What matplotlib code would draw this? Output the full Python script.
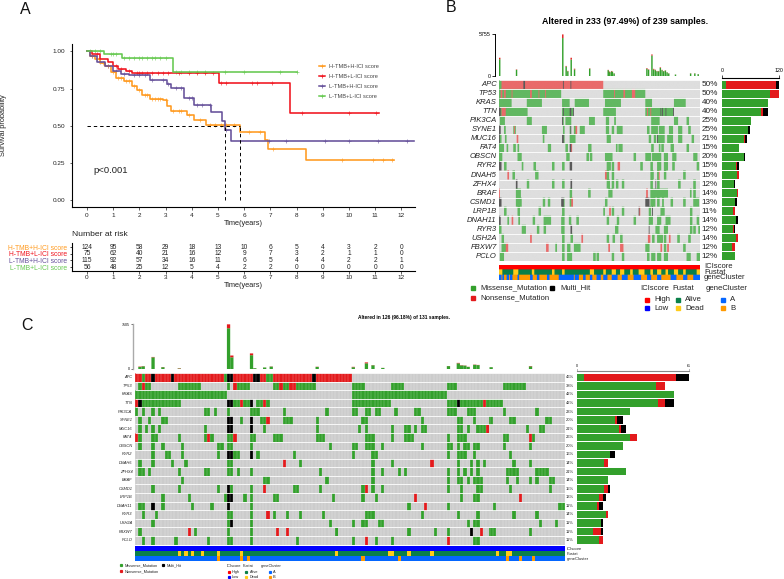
import numpy as np
import matplotlib
matplotlib.use("Agg")
import matplotlib.pyplot as plt
from matplotlib.colors import to_rgb
from matplotlib.lines import Line2D

plt.rcParams["font.family"] = ["Liberation Sans", "DejaVu Sans"]

W, H = 784, 579

# ---- panel A: survival curves
groups = ["H-TMB+H-ICI score", "H-TMB+L-ICI score", "L-TMB+H-ICI score", "L-TMB+L-ICI score"]
group_colors = ["#FF9A1F", "#F0141E", "#65509A", "#66C950"]
t_hh = [0, 0.1, 0.3, 0.5, 0.7, 0.9, 1.1, 1.4, 1.7, 1.9, 2.1, 2.4, 2.9, 3.05, 3.2, 3.8, 4.1, 4.55, 5.85, 6.8, 6.92, 8.35, 11.73]
s_hh = [1, 0.97, 0.95, 0.92, 0.90, 0.86, 0.82, 0.80, 0.77, 0.74, 0.71, 0.68, 0.67, 0.63, 0.60, 0.57, 0.54, 0.505, 0.455, 0.404, 0.343, 0.272, 0.272]
t_hl = [0, 0.2, 0.5, 0.8, 1.0, 1.2, 1.5, 1.7, 5.05, 7.75, 11.15]
s_hl = [1, 0.98, 0.95, 0.93, 0.90, 0.88, 0.87, 0.855, 0.785, 0.583, 0.583]
t_lh = [0, 0.1, 0.4, 0.7, 1.0, 1.3, 1.6, 2.4, 3.05, 3.2, 3.7, 4.1, 4.75, 5.15, 5.25, 5.5, 12.48]
s_lh = [1, 0.97, 0.93, 0.90, 0.87, 0.85, 0.84, 0.81, 0.78, 0.755, 0.685, 0.64, 0.59, 0.53, 0.47, 0.40, 0.40]
t_ll = [0, 0.65, 1.35, 3.27, 8.0]
s_ll = [1, 0.985, 0.955, 0.86, 0.86]
cens_hh = [0.2, 0.4, 0.6, 0.8, 1.0, 1.2, 1.3, 1.5, 1.6, 1.8, 2.0, 2.2, 2.3, 2.5, 2.6, 2.7, 2.8, 3.0, 3.3, 3.5, 3.6, 3.9, 4.3, 4.7, 4.9, 5.1, 5.3, 5.6, 6.2, 6.6, 7.1, 9.75, 10.9, 11.3, 11.65]
cens_hl = [0.4, 1.1, 1.3, 1.6, 1.9, 2.0, 2.1, 2.3, 2.5, 2.7, 2.9, 3.1, 3.5, 3.9, 4.2, 4.5, 4.8, 5.1, 5.3, 6.3, 6.5, 7.05, 8.2, 10.0, 11.05]
cens_lh = [0.2, 0.5, 0.8, 1.1, 1.4, 1.8, 2.0, 2.2, 2.5, 2.9, 3.1, 3.4, 3.6, 3.9, 4.0, 4.2, 4.4, 4.7, 5.3, 6.95, 7.6, 9.1, 10.0, 11.1, 12.2]
cens_ll = [0.1, 0.3, 0.5, 0.9, 1.0, 1.1, 1.4, 1.6, 1.8, 2.0, 2.1, 2.3, 2.5, 2.6, 2.8, 3.0, 3.4, 3.6, 3.9, 4.2, 4.5, 5.25, 6.0, 7.35, 8.0]
median_times = [5.25, 5.85]
risk_times = list(range(13))
risk_hh = [124, 95, 58, 29, 18, 13, 10, 6, 5, 4, 3, 2, 0]
risk_hl = [75, 62, 40, 21, 16, 12, 9, 7, 3, 2, 1, 1, 0]
risk_lh = [115, 92, 57, 34, 16, 11, 6, 5, 4, 4, 2, 2, 1]
risk_ll = [56, 48, 25, 12, 5, 4, 2, 2, 0, 0, 0, 0, 0]

# ---- oncoplots, shared
genes_b = ["APC", "TP53", "KRAS", "TTN", "PIK3CA", "SYNE1", "MUC16", "FAT4", "OBSCN", "RYR2", "DNAH5", "ZFHX4", "BRAF", "CSMD1", "LRP1B", "DNAH11", "RYR3", "USH2A", "FBXW7", "PCLO"]
genes_c = genes_b
pct_b = [50, 50, 40, 40, 25, 25, 21, 15, 20, 15, 15, 12, 14, 13, 11, 14, 12, 14, 12, 12]
pct_c = [46, 38, 42, 42, 23, 20, 21, 26, 20, 16, 14, 21, 14, 15, 13, 11, 14, 11, 11, 11]
n_b, n_c = 239, 131

# panel B, runs of samples (first, last) per gene
b_miss = [
    [(0, 2)],
    [(0, 73), (124, 173)],
    [(0, 14), (33, 50), (75, 83), (90, 106), (126, 144), (174, 181), (208, 221)],
    [(0, 33), (75, 88), (124, 138), (174, 207)],
    [(1, 6), (33, 38), (75, 76), (79, 85), (107, 113), (127, 130), (137, 138), (181, 190), (208, 212), (223, 225)],
    [(6, 7), (17, 19), (51, 56), (76, 77), (84, 85), (89, 92), (96, 101), (127, 130), (134, 136), (140, 146), (176, 178), (181, 188), (190, 196), (202, 206), (213, 217), (225, 227)],
    [(1, 2), (7, 8), (52, 53), (75, 77), (84, 88), (89, 90), (128, 132), (178, 180), (184, 186), (188, 196), (200, 206), (213, 217), (229, 231)],
    [(0, 2), (3, 5), (9, 10), (17, 19), (22, 23), (58, 61), (79, 81), (106, 109), (139, 140), (142, 143), (144, 146), (181, 183), (190, 191), (193, 195), (204, 207), (223, 225)],
    [(0, 3), (22, 26), (80, 83), (104, 106), (108, 110), (126, 134), (160, 162), (174, 180), (182, 192), (196, 200), (206, 210), (231, 235)],
    [(6, 8), (27, 28), (41, 43), (63, 65), (75, 77), (128, 132), (134, 136), (168, 170), (180, 182), (188, 192), (196, 200), (206, 208), (235, 237)],
    [(16, 18), (43, 46), (128, 130), (134, 136), (180, 183), (188, 190), (196, 198), (219, 221)],
    [(33, 35), (63, 65), (75, 77), (128, 131), (134, 136), (139, 141), (146, 148), (180, 182), (188, 190), (213, 215), (231, 233)],
    [(20, 22), (23, 25), (84, 86), (106, 108), (130, 134), (180, 200), (227, 228), (231, 233)],
    [(20, 22), (23, 26), (52, 54), (58, 60), (75, 77), (84, 86), (126, 128), (180, 185), (188, 190), (194, 195), (204, 206), (219, 221), (231, 237)],
    [(6, 8), (22, 24), (47, 49), (75, 77), (124, 125), (134, 136), (146, 148), (178, 180), (192, 196), (227, 229)],
    [(10, 11), (23, 24), (40, 42), (53, 61), (74, 77), (83, 85), (92, 94), (128, 130), (140, 142), (160, 162), (178, 182), (188, 192), (198, 203), (227, 229), (235, 237)],
    [(0, 2), (27, 31), (45, 47), (53, 55), (74, 77), (138, 141), (186, 190), (196, 200), (227, 229), (231, 233), (237, 238)],
    [(3, 5), (75, 77), (85, 87), (128, 130), (135, 137), (144, 146), (182, 184), (188, 194), (196, 198), (212, 214), (225, 227)],
    [(3, 5), (6, 7), (67, 68), (75, 77), (81, 84), (89, 96), (174, 178), (196, 198), (219, 221)],
    [(1, 5), (75, 77), (81, 86), (112, 114), (116, 118), (134, 136), (146, 148), (176, 178), (181, 185), (188, 192), (196, 200), (223, 227), (235, 238)],
]
b_nons = [
    [(3, 123)],
    [(2, 3), (6, 7), (15, 15), (37, 38), (47, 47), (55, 55), (137, 137), (148, 149), (158, 161)],
    [],
    [(3, 7), (176, 176), (180, 180)],
    [],
    [(18, 18), (91, 92)],
    [(21, 22)],
    [(86, 86)],
    [],
    [(141, 143)],
    [(10, 11), (126, 127), (190, 190)],
    [],
    [(0, 0), (175, 176)],
    [(86, 87)],
    [(131, 132), (166, 167)],
    [(15, 16)],
    [],
    [(37, 38), (98, 99), (177, 179), (202, 203)],
    [(8, 10), (56, 58), (130, 131), (144, 147), (192, 193), (200, 201)],
    [],
]
b_multi = [
    [(29, 30), (76, 76), (85, 85)],
    [],
    [],
    [(0, 1), (76, 76), (84, 85), (88, 88), (192, 192), (194, 194), (198, 198), (207, 207)],
    [(75, 75)],
    [(0, 1), (85, 85)],
    [(0, 0), (75, 76), (188, 188)],
    [(84, 85)],
    [],
    [(0, 2), (84, 86)],
    [],
    [(20, 21), (85, 86), (186, 186)],
    [],
    [(0, 2), (74, 76), (174, 178)],
    [(166, 166), (182, 182)],
    [(0, 1)],
    [(85, 86), (178, 178)],
    [],
    [],
    [],
]
b_top_idx = [0, 20, 75, 79, 81, 85, 89, 107, 129, 130, 131, 133, 134, 136, 175, 177, 181, 183, 185, 187, 189, 191, 193, 195, 197, 199, 201, 209, 227, 232, 236]
b_top_green = [2300, 850, 5200, 1300, 650, 2250, 900, 1000, 800, 600, 500, 650, 550, 350, 1000, 850, 2800, 900, 800, 650, 650, 1100, 800, 650, 750, 500, 350, 200, 350, 350, 250]
b_top_red = [200, 50, 500, 80, 50, 250, 100, 50, 40, 40, 40, 40, 40, 20, 80, 60, 150, 80, 60, 40, 40, 80, 40, 30, 30, 20, 20, 10, 20, 20, 10]
b_bar_miss = [8, 100, 96, 82, 60, 54, 46, 35, 47, 30, 32, 26, 32, 27, 24, 29, 24, 29, 21, 28]
b_bar_nons = [105, 19, 0, 5, 0, 1, 3, 1, 0, 1, 4, 0, 1, 1, 3, 1, 1, 4, 7, 0]
b_bar_multi = [7, 0, 0, 10, 0, 3, 3, 0, 1, 5, 0, 2, 0, 4, 1, 3, 3, 0, 0, 0]
b_dead = [(0, 3), (17, 22), (39, 41), (63, 65), (75, 77), (108, 112), (124, 126), (134, 138), (144, 148), (156, 158), (166, 172), (180, 182), (188, 192), (198, 200), (208, 212), (219, 221), (235, 238)]
b_cluster_a = [(0, 2), (4, 5), (9, 11), (13, 15), (22, 23), (37, 39), (45, 47), (57, 59), (71, 88), (90, 94), (100, 102), (108, 110), (116, 120), (124, 128), (134, 140), (146, 152), (160, 168), (176, 180), (188, 192), (204, 210), (219, 223), (231, 238)]

# panel C, sample numbers per gene
c_miss = [
    [2, 27, 40, 41],
    [1, 3, 4] + list(range(13, 20)) + [28] + list(range(31, 35)) + [42, 43, 45, 46] + list(range(49, 55)) + list(range(66, 70)) + list(range(78, 82)) + [95, 96, 97] + list(range(112, 119)),
    list(range(0, 28)) + list(range(66, 95)),
    list(range(2, 14)) + [30, 31, 33, 34] + [37, 38, 40] + list(range(66, 78)) + [95, 96, 97] + list(range(99, 106)) + list(range(107, 112)),
    [0, 2, 5, 7, 21, 22, 24, 28, 35, 36, 37, 45, 58, 66, 67, 70, 71, 73, 74, 79, 85, 86, 95, 96, 97, 101, 102, 103, 112, 122],
    [1, 4, 8, 9, 32, 38, 39, 45, 46, 47, 55, 69, 70, 87, 98, 99, 103, 108, 114, 115, 125, 126],
    [1, 3, 5, 7, 21, 39, 55, 68, 70, 78, 82, 83, 85, 87, 88, 98, 99, 101, 104, 105, 106, 119, 123, 124],
    [1, 5, 6, 13, 21, 23, 28, 29, 35, 36, 42, 43, 44, 55, 56, 57, 70, 71, 72, 78, 82, 83, 84, 95, 98, 99, 100, 112, 113, 121],
    [1, 5, 8, 14, 25, 26, 28, 29, 35, 59, 66, 67, 70, 71, 72, 75, 87, 95, 96, 98, 100, 101, 103, 104, 112, 120],
    [5, 9, 10, 14, 25, 30, 31, 37, 48, 66, 72, 73, 95, 98, 99, 100, 103, 114],
    [1, 5, 11, 15, 28, 29, 50, 72, 78, 98, 102, 104, 106, 115, 120],
    [1, 2, 4, 13, 21, 22, 28, 29, 31, 35, 56, 72, 75, 80, 82, 95, 98, 100, 102, 104, 113, 114, 115, 116, 122, 123, 124, 125],
    [14, 39, 40, 58, 72, 95, 98, 99, 101, 103, 104, 105, 113, 116, 120, 122, 126, 127],
    [5, 13, 25, 29, 35, 48, 49, 56, 69, 72, 75, 95, 99, 104, 105, 114, 126],
    [8, 16, 27, 33, 35, 42, 43, 60, 69, 73, 99, 103, 104],
    [1, 2, 8, 17, 23, 35, 83, 95, 109, 129, 130],
    [2, 6, 28, 29, 35, 42, 46, 50, 57, 70, 71, 72, 87, 98, 104, 115, 122],
    [5, 28, 35, 59, 66, 69, 70, 74, 75, 101, 103, 104, 123, 128],
    [1, 18, 28, 35, 61, 83, 91, 95, 108, 109, 120],
    [2, 5, 12, 22, 28, 29, 35, 49, 66, 73, 78, 103, 104],
]
c_nons = [
    [0, 1, 3, 4] + list(range(6, 11)) + list(range(12, 27)) + list(range(30, 36)) + [38, 39] + list(range(42, 54)) + list(range(55, 66)),
    [2, 30, 44, 47, 48],
    [],
    [0, 32, 39, 106],
    [],
    [40],
    [107],
    [0, 22, 30, 120],
    [],
    [],
    [45, 90],
    [],
    [],
    [39, 70],
    [85, 117],
    [88],
    [40],
    [],
    [16, 43, 46, 105],
    [70, 95],
]
c_multi = [
    [5, 11, 28, 29, 36, 37, 54],
    [],
    [],
    [1, 28, 29, 35, 98],
    [],
    [28, 29, 35],
    [28, 29, 35],
    [],
    [],
    [28, 29, 35],
    [],
    [],
    [],
    [28],
    [28, 29],
    [5, 28],
    [],
    [29],
    [102],
    [],
]
c_top_idx = [1, 2, 5, 8, 13, 28, 29, 35, 36, 39, 41, 55, 66, 70, 72, 75, 95, 98, 99, 100, 101, 103, 104, 108, 120]
c_top_green = [350, 450, 1950, 300, 90, 6800, 1950, 2300, 130, 250, 400, 350, 300, 950, 620, 180, 480, 950, 600, 560, 350, 700, 650, 300, 450]
c_top_red = [60, 30, 60, 30, 50, 650, 300, 300, 10, 10, 30, 30, 60, 150, 30, 10, 20, 70, 40, 30, 20, 40, 30, 10, 50]
c_bar_miss = [4, 43, 53, 44, 29, 21, 23, 29, 25, 18, 15, 27, 17, 15, 12, 11, 16, 13, 9, 12]
c_bar_nons = [50, 5, 0, 4, 0, 1, 1, 4, 0, 0, 2, 0, 0, 2, 2, 1, 1, 0, 4, 2]
c_bar_multi = [7, 0, 0, 5, 0, 3, 3, 0, 0, 3, 0, 0, 0, 1, 2, 2, 0, 1, 1, 0]
c_dead = [13, 15, 17, 20, 25, 32, 61, 77, 78, 83, 90, 110, 113, 114]
c_cluster_b = [25, 32, 34, 69, 80, 113, 117, 121]

GREEN, RED, BLACK, GREY = "#33A02C", "#E31A1C", "#000000", "#CCCCCC"
PALE = ["#DEDEDE", "#62B862", "#E96A6A", "#5A5A5A"]
FULL = [GREY, GREEN, RED, BLACK]


def axpx(x0, y0, x1, y1):
    # pixel box, y from the top of the picture
    return fig.add_axes([x0 / W, 1 - y1 / H, (x1 - x0) / W, (y1 - y0) / H])


def txt(x, y, s, **kw):
    kw.setdefault("va", "center")
    fig.text(x / W, 1 - y / H, s, **kw)


def expand(runs):
    out = []
    for a, b in runs:
        out += list(range(a, b + 1))
    return out


def matrix(n, miss, nons, multi):
    m = np.zeros((len(miss), n), dtype=int)
    for r in range(len(miss)):
        m[r, miss[r]] = 1
        m[r, nons[r]] = 2
        m[r, multi[r]] = 3
    return m


def oncoplot(box, mat, gene_names, pct, fs_gene, fs_pct, lab_x, pct_x, palette, interp, col_lines):
    ax = axpx(*box)
    rgb = np.array([to_rgb(c) for c in palette])[mat]
    ax.imshow(np.repeat(rgb, 30, axis=0), aspect="auto", interpolation=interp,
              extent=(0, mat.shape[1], len(gene_names), 0))
    ax.hlines(np.arange(len(gene_names) + 1), 0, mat.shape[1], color="white", lw=0.6)
    if col_lines:
        ax.vlines(np.arange(mat.shape[1] + 1), 0, len(gene_names), color="white", lw=0.25, alpha=0.6)
    ax.axis("off")
    row_h = (box[3] - box[1]) / len(gene_names)
    for i, g in enumerate(gene_names):
        yy = box[1] + (i + 0.5) * row_h
        txt(lab_x, yy, g, ha="right", style="italic", fontsize=fs_gene, color="#222222")
        txt(pct_x, yy, f"{pct[i]}%", ha="left", fontsize=fs_pct, color="#222222")
    return ax


def top_bars(box, n, idx, green, red, ymax, bw):
    ax = axpx(*box)
    low = np.full(n, ymax * 0.006)
    ax.bar(np.arange(n), low, width=1, color=GREEN, lw=0, align="edge", alpha=0.6)
    for b in ax.bar(idx, green, width=bw, color=GREEN, lw=0, align="edge"):
        b.set_snap(False)
    for b in ax.bar(idx, red, bottom=green, width=bw, color=RED, lw=0, align="edge"):
        b.set_snap(False)
    ax.set_xlim(0, n)
    ax.set_ylim(0, ymax)
    for s in ["top", "right", "bottom"]:
        ax.spines[s].set_visible(False)
    ax.set_xticks([])
    ax.set_yticks([0, ymax])
    ax.set_yticklabels(["0", str(ymax)])
    return ax


def side_bars(box, miss, nons, multi, xmax):
    ax = axpx(*box)
    y = np.arange(len(miss)) + 0.5
    miss = np.array(miss)
    nons = np.array(nons)
    multi = np.array(multi)
    ax.barh(y, miss, height=0.88, color=GREEN, lw=0)
    ax.barh(y, nons, left=miss, height=0.88, color=RED, lw=0)
    ax.barh(y, multi, left=miss + nons, height=0.88, color=BLACK, lw=0)
    ax.set_xlim(0, xmax)
    ax.set_ylim(len(miss), 0)
    ax.axis("off")
    return ax


def legend_block(rows, fs, ms):
    for sx, tx, yy, col, lab in rows:
        if col is not None:
            fig.add_artist(Line2D([sx / W], [1 - yy / H], marker="s", color=col, ms=ms, lw=0))
        txt(tx, yy, lab, fontsize=fs, color="#222222")


fig = plt.figure(figsize=(W / 100, H / 100), dpi=100)

# ---------- A
ax = axpx(71.5, 44, 415, 207)
curves = [(t_hh, s_hh, cens_hh), (t_hl, s_hl, cens_hl), (t_lh, s_lh, cens_lh), (t_ll, s_ll, cens_ll)]
for k in [3, 1, 2, 0]:
    t, s, c = curves[k]
    ax.step(t, s, where="post", color=group_colors[k], lw=1.15, zorder=3 + k * 0.1)
    yc = np.array(s)[np.searchsorted(t, c, side="right") - 1]
    ax.plot(c, yc, "+", color=group_colors[k], ms=3, mew=0.5, alpha=0.8, zorder=3)
ax.plot([0, median_times[1]], [0.5, 0.5], color="black", lw=0.7, ls=(0, (3.5, 3)), zorder=5)
for m in median_times:
    ax.plot([m, m], [0, 0.5], color="black", lw=0.7, ls=(0, (3.5, 3)), zorder=5)
ax.set_xlim(-0.59, 12.52)
ax.set_ylim(-0.047, 1.05)
ax.set_xticks(risk_times)
ax.set_yticks([0, 0.25, 0.5, 0.75, 1])
ax.set_yticklabels(["0.00", "0.25", "0.50", "0.75", "1.00"])
ax.tick_params(labelsize=4.6, length=1.8, width=0.5, pad=2.5, colors="#222222")
ax.set_xlabel("Time(years)", fontsize=5.3, labelpad=1.5, color="#222222")
for s in ["top", "right"]:
    ax.spines[s].set_visible(False)
for s in ["left", "bottom"]:
    ax.spines[s].set_linewidth(0.8)
txt(4, 125, "Survival probability", rotation=90, ha="center", fontsize=5.3, color="#222222")
txt(93, 171, "p<0.001", fontsize=6.8, color="#222222")
handles = [Line2D([], [], color=group_colors[k], lw=1.1, marker="+", ms=3, mew=0.5) for k in range(4)]
leg = ax.legend(handles, groups, loc="upper left", bbox_to_anchor=((319 - 71.5) / 343.5, (207 - 64) / 163),
                frameon=False, fontsize=4.1, labelspacing=0.85, handlelength=1.1, handletextpad=0.7, borderaxespad=0, borderpad=0)
for tx in leg.get_texts():
    tx.set_color("#444444")
txt(20, 9, "A", fontsize=11.5, color="#111111")

ax = axpx(71.5, 243, 415, 270.5)
for r, vals in enumerate([risk_hh, risk_hl, risk_lh, risk_ll]):
    for t, v in zip(risk_times, vals):
        ax.text(t, r, str(v), ha="center", va="center", fontsize=4.8, color="#222222")
ax.set_xlim(-0.59, 12.52)
ax.set_ylim(3.5, -0.6)
ax.set_xticks(risk_times)
ax.set_yticks(range(4))
ax.set_yticklabels(groups)
for tl, col in zip(ax.get_yticklabels(), group_colors):
    tl.set_color(col)
ax.tick_params(axis="y", labelsize=4.9, length=1.8, width=0.5, pad=1)
ax.tick_params(axis="x", labelsize=4.6, length=1.8, width=0.5, pad=1.5, colors="#222222")
ax.set_xlabel("Time(years)", fontsize=5.3, labelpad=1.5, color="#222222")
for s in ["top", "right"]:
    ax.spines[s].set_visible(False)
for s in ["left", "bottom"]:
    ax.spines[s].set_linewidth(0.8)
txt(72, 235, "Number at risk", fontsize=6.1, color="#222222")

# ---------- B
txt(446, 7, "B", fontsize=11.5, color="#111111")
txt(625, 22, "Altered in 233 (97.49%) of 239 samples.", ha="center", fontsize=6.4, fontweight="bold")
ax = top_bars((499, 34, 700, 76), n_b, b_top_idx, b_top_green, b_top_red, 5755, 1.7)
ax.spines["left"].set_linewidth(0.7)
ax.spines["left"].set_position(("outward", 3))
ax.tick_params(labelsize=3.8, length=2, width=0.6, pad=1)

mat_b = matrix(n_b, [expand(x) for x in b_miss], [expand(x) for x in b_nons], [expand(x) for x in b_multi])
oncoplot((499, 80, 700, 261), mat_b, genes_b, pct_b, 5.5, 5.9, 496.7, 701.7, PALE, "antialiased", False)

side_bars((722, 80, 779, 261), b_bar_miss, b_bar_nons, b_bar_multi, 120)
axt = axpx(722, 75, 779, 77.5)
axt.set_xlim(0, 120)
axt.set_yticks([])
axt.xaxis.tick_top()
axt.set_xticks([0, 120])
axt.tick_params(labelsize=3.8, length=2, width=0.5, direction="in", pad=1.5, top=True)
for s in ["left", "right", "top"]:
    axt.spines[s].set_visible(False)
axt.patch.set_alpha(0)

# rows: score, survival status, cluster
pal = {"high": (1, 0, 0), "alive": (0.04, 0.5, 0.29), "dead": (1, 0.8, 0.1), "a": (0.02, 0.4, 1), "b": (1, 0.6, 0)}
colors_b = np.zeros((3, n_b, 3))
colors_b[0, :] = pal["high"]
colors_b[1, :] = pal["alive"]
colors_b[1, expand(b_dead)] = pal["dead"]
colors_b[2, :] = pal["b"]
colors_b[2, expand(b_cluster_a)] = pal["a"]
ax = axpx(499, 264.5, 700, 280)
ax.imshow(np.repeat(colors_b, 30, axis=0), aspect="auto", interpolation="antialiased")
ax.axis("off")
for yy, s in zip([267, 272.5, 277.5], ["ICIscore", "Fustat", "geneCluster"]):
    txt(704, yy, s, fontsize=5.5, color="#222222")

legend_block([
    (473, 480, 288, GREEN, "Missense_Mutation"), (552, 560, 288, BLACK, "Multi_Hit"),
    (473, 480, 297.5, RED, "Nonsense_Mutation"),
    (0, 640.5, 288, None, "ICIscore"), (0, 672.5, 288, None, "Fustat"), (0, 706, 288, None, "geneCluster"),
    (647, 654, 299.5, "#FF0000", "High"), (678, 685, 299.5, "#0A8049", "Alive"), (723, 730, 299.5, "#0566FF", "A"),
    (647, 654, 308, "#0000FF", "Low"), (678, 685, 308, "#FFCC1A", "Dead"), (723, 730, 308, "#FF9900", "B"),
], 5.6, 2.4)

# ---------- C
txt(21, 326, "C", fontsize=11.5, color="#111111")
txt(404, 317, "Altered in 126 (96.18%) of 131 samples.", ha="center", fontsize=3.5, fontweight="bold")
ax = top_bars((135, 324, 565, 369), n_c, c_top_idx, c_top_green, c_top_red, 7505, 1)
ax.spines["left"].set_linewidth(1.0)
ax.spines["left"].set_color("#AAAAAA")
ax.spines["left"].set_position(("outward", 1.5))
ax.tick_params(labelsize=2.6, length=1.2, width=0.4, pad=0.8)

mat_c = matrix(n_c, c_miss, c_nons, c_multi)
oncoplot((135, 373, 565, 544.5), mat_c, genes_c, pct_c, 2.9, 3.0, 132.5, 566, FULL, "nearest", True)

side_bars((577, 373, 688.7, 544.5), c_bar_miss, c_bar_nons, c_bar_multi, 61)
axt = axpx(577, 369, 688.7, 371)
axt.set_xlim(0, 61)
axt.set_yticks([])
axt.xaxis.tick_top()
axt.set_xticks([0, 61])
axt.tick_params(labelsize=2.6, length=1, width=0.4, direction="in", pad=0.5, top=True)
for s in ["left", "right", "top"]:
    axt.spines[s].set_visible(False)
axt.spines["bottom"].set_color("#888888")
axt.patch.set_alpha(0)

colors_c = np.zeros((3, n_c, 3))
colors_c[0, :] = (0, 0, 1)
colors_c[1, :] = pal["alive"]
colors_c[1, c_dead] = pal["dead"]
colors_c[2, :] = pal["a"]
colors_c[2, c_cluster_b] = pal["b"]
ax = axpx(135, 546, 565, 561)
ax.imshow(colors_c, aspect="auto", interpolation="nearest")
ax.axis("off")
for yy, s in zip([549, 553.7, 558.7], ["ICIscore", "Fustat", "geneCluster"]):
    txt(566.7, yy, s, fontsize=3.0, color="#222222")

legend_block([
    (120.7, 125, 565, GREEN, "Missense_Mutation"), (163, 167, 565, BLACK, "Multi_Hit"),
    (120.7, 125, 571, RED, "Nonsense_Mutation"),
    (0, 226.7, 566, None, "ICIscore"), (0, 242.7, 566, None, "Fustat"), (0, 260.7, 566, None, "geneCluster"),
    (229, 232, 572.3, "#FF0000", "High"), (246, 250, 572.3, "#0A8049", "Alive"), (270, 273, 572.3, "#0566FF", "A"),
    (229, 232, 577, "#0000FF", "Low"), (246, 250, 577, "#FFCC1A", "Dead"), (270, 273, 577, "#FF9900", "B"),
], 2.8, 1.3)

fig.savefig("out.png", dpi=100)
